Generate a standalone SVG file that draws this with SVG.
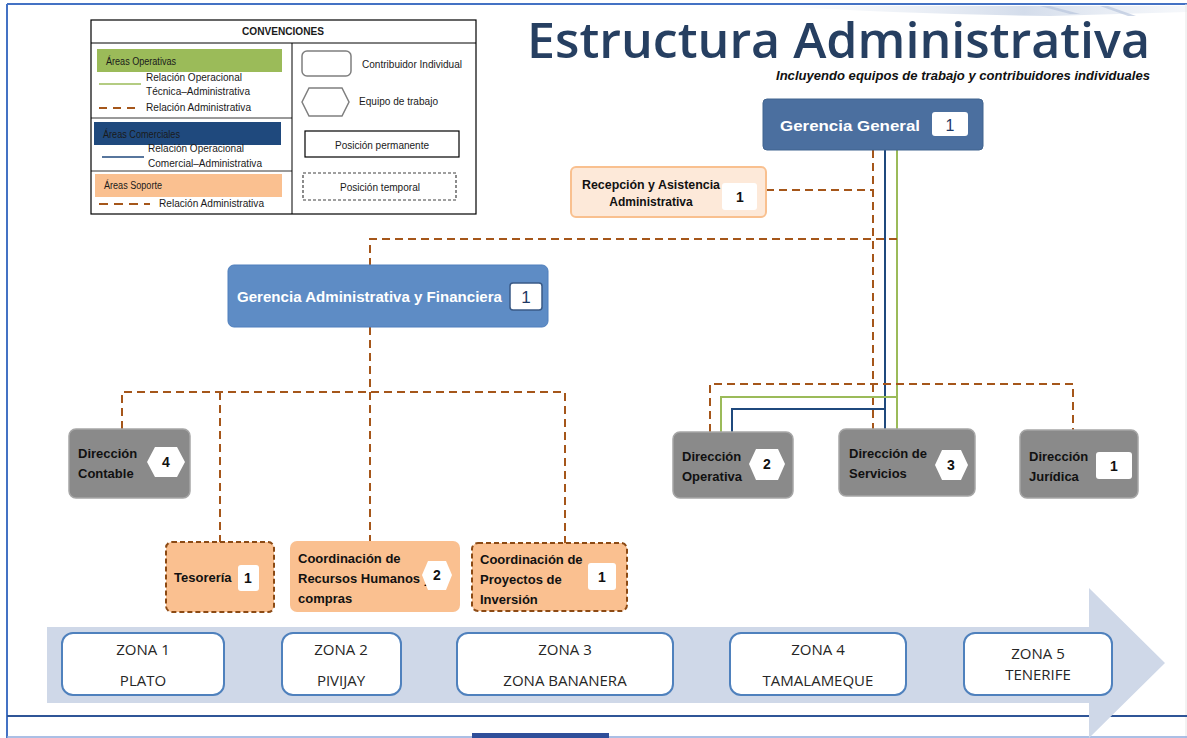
<svg xmlns="http://www.w3.org/2000/svg" width="1187" height="738" viewBox="0 0 1187 738">
<defs>
<style>
.lg{font-family:"Liberation Sans",Arial,sans-serif;font-size:10px;fill:#1a1a1a}
.nb{font-family:"Liberation Sans",Arial,sans-serif;font-size:13px;font-weight:bold;fill:#111}
.wb{font-family:"Liberation Sans",Arial,sans-serif;font-weight:bold;fill:#fff}
.bt{font-family:"Liberation Sans",Arial,sans-serif;font-size:14px;font-weight:bold;fill:#111;text-anchor:middle}
.adm{fill:none;stroke:#a5561a;stroke-width:2;stroke-dasharray:8 5}
.op{fill:none;stroke:#9bbb59;stroke-width:2}
.co{fill:none;stroke:#1f497d;stroke-width:2}
.gray{fill:#8a8a8a;stroke:#a6a6a6;stroke-width:1.5}
.sup{fill:#fac090}
.supd{fill:#fac090;stroke:#8c4a14;stroke-width:2;stroke-dasharray:5 3}
.zone{fill:#fff;stroke:#4f81bd;stroke-width:2}
.zt{font-family:"Open Sans","Liberation Sans",sans-serif;font-size:15px;fill:#262626;text-anchor:middle}
</style>
<linearGradient id="sw" x1="0" y1="0" x2="1" y2="0">
<stop offset="0" stop-color="#dfe6f1" stop-opacity="0"/>
<stop offset="0.6" stop-color="#c9d4e6" stop-opacity="0.8"/>
<stop offset="1" stop-color="#dfe6f1" stop-opacity="0.3"/>
</linearGradient>
</defs>
<rect width="1187" height="738" fill="#fff"/>
<g id="frame">
<path d="M780,6 Q900,14 1050,16 L1187,12 L1187,6 Z" fill="url(#sw)"/>
<path d="M1040,6 L1070,14 L1080,14 L1050,6 Z" fill="#b9c6dd" opacity="0.7"/>
<path d="M1100,6 L1128,16 L1136,16 L1108,6 Z" fill="#b9c6dd" opacity="0.7"/>
<line x1="7" y1="4" x2="1187" y2="4" stroke="#4472c4" stroke-width="2"/>
<line x1="7" y1="4" x2="7" y2="738" stroke="#4472c4" stroke-width="2"/>
<line x1="1186" y1="4" x2="1186" y2="738" stroke="#e6e6e6" stroke-width="1"/>
<line x1="7" y1="716" x2="1187" y2="716" stroke="#2f5597" stroke-width="2"/>
<line x1="7" y1="737" x2="1187" y2="737" stroke="#8faadc" stroke-width="1.5"/>
<rect x="472" y="733" width="137" height="5" fill="#2f4f9a"/>
</g>
<g id="legend">
<rect x="91" y="20" width="385" height="194" fill="#fff" stroke="#000" stroke-width="1.2"/>
<line x1="91" y1="43" x2="476" y2="43" stroke="#000" stroke-width="1"/>
<line x1="292" y1="43" x2="292" y2="214" stroke="#000" stroke-width="1"/>
<line x1="91" y1="118" x2="292" y2="118" stroke="#000" stroke-width="0.8"/>
<line x1="91" y1="171" x2="292" y2="171" stroke="#000" stroke-width="0.8"/>
<text x="283" y="35" class="lg" font-weight="bold" text-anchor="middle" font-size="10.5" textLength="82" lengthAdjust="spacingAndGlyphs">CONVENCIONES</text>
<rect x="97" y="49" width="185" height="23" fill="#9bbb59"/>
<text x="106" y="65" class="lg" font-size="9.5" textLength="70" lengthAdjust="spacingAndGlyphs">Áreas Operativas</text>
<line x1="99" y1="84" x2="141" y2="84" stroke="#9bbb59" stroke-width="1.5"/>
<text x="146" y="81" class="lg" textLength="96" lengthAdjust="spacingAndGlyphs">Relación Operacional</text>
<text x="146" y="95" class="lg" textLength="104" lengthAdjust="spacingAndGlyphs">Técnica–Administrativa</text>
<line x1="99" y1="108" x2="137" y2="108" stroke="#a5561a" stroke-width="2" stroke-dasharray="8 6"/>
<text x="146" y="111" class="lg" textLength="105" lengthAdjust="spacingAndGlyphs">Relación Administrativa</text>
<rect x="94" y="122" width="187" height="23" fill="#1f497d"/>
<text x="103" y="138" class="lg" font-size="9.5" textLength="77" lengthAdjust="spacingAndGlyphs">Áreas Comerciales</text>
<line x1="102" y1="157" x2="144" y2="157" stroke="#1f497d" stroke-width="1.5"/>
<text x="148" y="152" class="lg" textLength="96" lengthAdjust="spacingAndGlyphs">Relación Operacional</text>
<text x="148" y="167" class="lg" textLength="114" lengthAdjust="spacingAndGlyphs">Comercial–Administrativa</text>
<rect x="95" y="174" width="187" height="23" fill="#fac090"/>
<text x="104" y="189" class="lg" font-size="9.5" textLength="58" lengthAdjust="spacingAndGlyphs">Áreas Soporte</text>
<line x1="99" y1="204" x2="150" y2="204" stroke="#a5561a" stroke-width="2" stroke-dasharray="9 6"/>
<text x="159" y="207" class="lg" textLength="105" lengthAdjust="spacingAndGlyphs">Relación Administrativa</text>
<rect x="302" y="51" width="49" height="25" rx="5" fill="#fff" stroke="#7f7f7f" stroke-width="1.5"/>
<text x="362" y="68" class="lg" textLength="100" lengthAdjust="spacingAndGlyphs">Contribuidor Individual</text>
<polygon points="302,102 309,88 342,88 349,102 342,116 309,116" fill="#fff" stroke="#7f7f7f" stroke-width="1.5"/>
<text x="359" y="105" class="lg" textLength="79" lengthAdjust="spacingAndGlyphs">Equipo de trabajo</text>
<rect x="305" y="131" width="154" height="26" fill="#fff" stroke="#000" stroke-width="1.2"/>
<text x="382" y="149" class="lg" text-anchor="middle" textLength="94" lengthAdjust="spacingAndGlyphs">Posición permanente</text>
<rect x="303" y="173" width="153" height="27" fill="#fff" stroke="#404040" stroke-width="1.2" stroke-dasharray="3 2"/>
<text x="380" y="191" class="lg" text-anchor="middle" textLength="80" lengthAdjust="spacingAndGlyphs">Posición temporal</text>
</g>
<g id="title">
<text x="527" y="58" font-family="'Open Sans','Noto Sans',sans-serif" font-weight="600" font-size="48" fill="#263f61" textLength="623" lengthAdjust="spacingAndGlyphs">Estructura Administrativa</text>
<text x="1150" y="80" font-family="'Liberation Sans',Arial,sans-serif" font-style="italic" font-weight="bold" font-size="12" fill="#111" text-anchor="end" textLength="374" lengthAdjust="spacingAndGlyphs">Incluyendo equipos de trabajo y contribuidores individuales</text>
</g>
<g id="band">
<polygon points="47,627 1089,627 1089,588 1165,663 1089,738 1089,703 47,703" fill="#cfd8e8"/>
</g>
<g id="connectors">
<path class="adm" d="M873,150 V430"/>
<path class="co" d="M885,150 V430"/>
<path class="op" d="M897,150 V430"/>
<path class="adm" d="M766,190 H873"/>
<path class="adm" d="M897,239 H370 V265"/>
<path class="adm" d="M710,432 V384 H1073 V430"/>
<path class="op" d="M721,432 V397 H897"/>
<path class="co" d="M732,432 V409 H885"/>
<path class="adm" d="M370,327 V541"/>
<path class="adm" d="M122,429 V392 H565 V543"/>
<path class="adm" d="M220,392 V542"/>
</g>
<g id="gerencia-general">
<rect x="763" y="99" width="220" height="51" rx="4" fill="#4b6f9f" stroke="#41648f" stroke-width="1"/>
<text x="780" y="131" class="wb" font-size="15.5" textLength="140" lengthAdjust="spacingAndGlyphs">Gerencia General</text>
<rect x="932" y="112" width="36" height="24" rx="3" fill="#fff"/>
<text x="950" y="131" font-family="'Liberation Sans',Arial,sans-serif" font-size="16" fill="#1f3864" text-anchor="middle">1</text>
</g>
<g id="recepcion">
<rect x="571" y="167" width="195" height="50" rx="5" fill="#fde9d9" stroke="#f9c08f" stroke-width="2"/>
<text x="651" y="189" font-family="'Liberation Sans',Arial,sans-serif" font-size="12" font-weight="bold" fill="#111" text-anchor="middle" textLength="138" lengthAdjust="spacingAndGlyphs">Recepción y Asistencia</text>
<text x="651" y="206" font-family="'Liberation Sans',Arial,sans-serif" font-size="12" font-weight="bold" fill="#111" text-anchor="middle">Administrativa</text>
<rect x="722" y="183" width="35" height="27" rx="3" fill="#fff"/>
<text x="740" y="202" class="bt" font-weight="normal">1</text>
</g>
<g id="gerencia-adm">
<rect x="228" y="265" width="320" height="62" rx="6" fill="#5e8cc5" stroke="#4f7fbd" stroke-width="1"/>
<text x="237" y="302" class="wb" font-size="14" textLength="265" lengthAdjust="spacingAndGlyphs">Gerencia Administrativa y Financiera</text>
<rect x="510" y="283" width="32" height="27" rx="3" fill="#fff" stroke="#3a5a86" stroke-width="1.5"/>
<text x="526" y="303" font-family="'Liberation Sans',Arial,sans-serif" font-size="17" fill="#1f3864" text-anchor="middle">1</text>
</g>
<g id="dir-contable">
<rect x="69" y="429" width="121" height="69" rx="7" class="gray"/>
<text x="78" y="458" class="nb">Dirección</text>
<text x="78" y="478" class="nb">Contable</text>
<polygon points="147,462 155,447 177,447 185,462 177,477 155,477" fill="#fff"/>
<text x="166" y="467" class="bt">4</text>
</g>
<g id="dir-operativa">
<rect x="673" y="432" width="120" height="66" rx="7" class="gray"/>
<text x="682" y="461" class="nb">Dirección</text>
<text x="682" y="481" class="nb">Operativa</text>
<polygon points="749,464 756,449 778,449 785,464 778,480 756,480" fill="#fff"/>
<text x="767" y="469" class="bt">2</text>
</g>
<g id="dir-servicios">
<rect x="839" y="429" width="136" height="67" rx="7" class="gray"/>
<text x="849" y="458" class="nb">Dirección de</text>
<text x="849" y="478" class="nb">Servicios</text>
<polygon points="935,465 942,450 961,450 968,465 961,480 942,480" fill="#fff"/>
<text x="951" y="470" class="bt">3</text>
</g>
<g id="dir-juridica">
<rect x="1020" y="430" width="118" height="68" rx="7" class="gray"/>
<text x="1029" y="461" class="nb">Dirección</text>
<text x="1029" y="481" class="nb">Jurídica</text>
<rect x="1096" y="452" width="36" height="27" rx="3" fill="#fff"/>
<text x="1114" y="471" class="bt">1</text>
</g>
<g id="tesoreria">
<rect x="166" y="542" width="108" height="70" rx="6" class="supd"/>
<text x="174" y="582" class="nb">Tesorería</text>
<rect x="238" y="565" width="21" height="26" rx="3" fill="#fff"/>
<text x="248" y="583" class="bt">1</text>
</g>
<g id="coord-rrhh">
<rect x="290" y="541" width="170" height="71" rx="7" class="sup"/>
<text x="298" y="563" class="nb">Coordinación de</text>
<text x="298" y="583" class="nb">Recursos Humanos y</text>
<text x="298" y="603" class="nb">compras</text>
<polygon points="422,575 428,561 446,561 452,575 446,590 428,590" fill="#fff"/>
<text x="437" y="580" class="bt">2</text>
</g>
<g id="coord-proyectos">
<rect x="472" y="543" width="155" height="68" rx="6" class="supd"/>
<text x="480" y="564" class="nb">Coordinación de</text>
<text x="480" y="584" class="nb">Proyectos de</text>
<text x="480" y="604" class="nb">Inversión</text>
<rect x="588" y="563" width="28" height="27" rx="3" fill="#fff"/>
<text x="602" y="582" class="bt">1</text>
</g>
<g id="zona-1">
<rect x="62" y="633" width="162" height="62" rx="11" class="zone"/>
<text x="143" y="655" class="zt">ZONA 1</text>
<text x="143" y="686" class="zt">PLATO</text>
</g>
<g id="zona-2">
<rect x="282" y="633" width="119" height="62" rx="11" class="zone"/>
<text x="341" y="655" class="zt">ZONA 2</text>
<text x="341" y="686" class="zt">PIVIJAY</text>
</g>
<g id="zona-3">
<rect x="457" y="633" width="216" height="62" rx="11" class="zone"/>
<text x="565" y="655" class="zt">ZONA 3</text>
<text x="565" y="686" class="zt">ZONA BANANERA</text>
</g>
<g id="zona-4">
<rect x="730" y="633" width="176" height="62" rx="11" class="zone"/>
<text x="818" y="655" class="zt">ZONA 4</text>
<text x="818" y="686" class="zt">TAMALAMEQUE</text>
</g>
<g id="zona-5">
<rect x="964" y="633" width="148" height="62" rx="11" class="zone"/>
<text x="1038" y="659" class="zt">ZONA 5</text>
<text x="1038" y="680" class="zt">TENERIFE</text>
</g>
</svg>
